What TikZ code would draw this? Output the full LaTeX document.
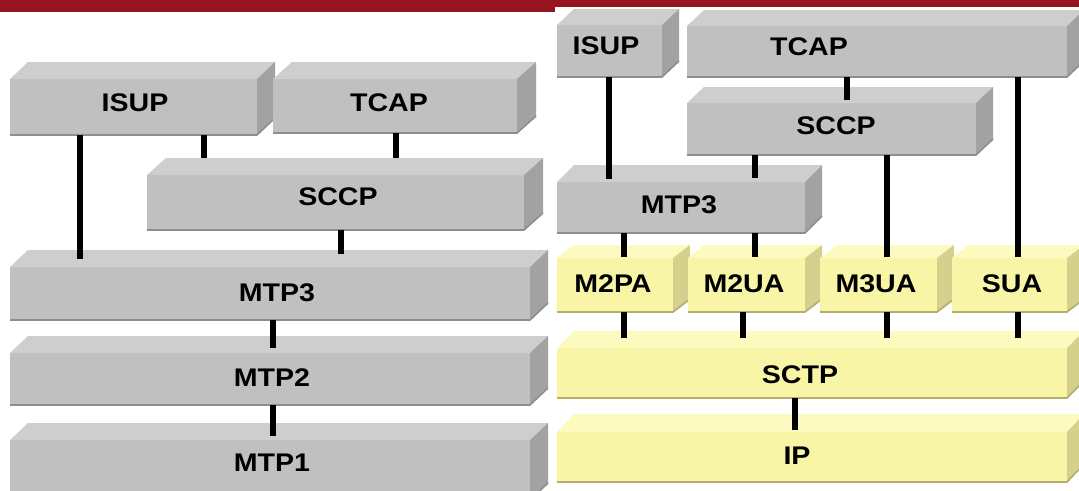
\documentclass[tikz,border=0pt]{standalone}
\usepackage{fontspec}
\setmainfont{Liberation Sans}[FakeStretch=1.12]
\usetikzlibrary{calc}

\definecolor{barred}{HTML}{961520}
\definecolor{grayfront}{HTML}{C0C0C0}
\definecolor{graytop}{HTML}{CECECE}
\definecolor{grayside}{HTML}{A2A2A2}
\definecolor{grayedge}{HTML}{8E8E8E}
\definecolor{yelfront}{HTML}{F9F5A6}
\definecolor{yeltop}{HTML}{FCFABF}
\definecolor{yelside}{HTML}{D5D18C}
\definecolor{yeledge}{HTML}{B3AE6E}

\tikzset{
  layer/.style={fill=#1front, draw=none, inner sep=0pt, outer sep=0pt},
  lbl/.style={font=\fontsize{25.5}{26}\selectfont\bfseries, inner sep=0pt, text=black},
  link/.style={draw=black, line width=6pt},
}

% \slab{name}{x1}{y1}{x2}{y2}{depth x}{depth y}{palette}
% front face (x1,y1)-(x2,y2), with a top face and a right side face
\newcommand\slab[8]{%
  \node[layer=#8, minimum width={(#4-#2)*1pt}, minimum height={(#5-#3)*1pt}]
    (#1) at ({(#2+#4)/2},{(#3+#5)/2}) {};
  \fill[#8top] (#1.north west) -- ++(#6,-#7) -- ($(#1.north east)+(#6,-#7)$)
    -- (#1.north east) -- cycle;
  \fill[#8side] (#1.north east) -- ++(#6,-#7) -- ($(#1.south east)+(#6,-#7)$)
    -- (#1.south east) -- cycle;
  \draw[#8edge, line width=1.6pt] (#1.south west) -- (#1.south east) -- ++(#6,-#7);
}

% \layerlink{upper}{lower}{x}{how far the bar reaches into the top face}
\newcommand\layerlink[4]{%
  \draw[link] (#1.south -| #3,0) -- ($(#2.north -| #3,0)+(0,-#4)$);
}

\begin{document}
\begin{tikzpicture}[x=1pt, y=-1pt]
\useasboundingbox (0,0) rectangle (1079,490);
\clip (0,0) rectangle (1079,490);
\fill[white] (0,0) rectangle (1079,490);

% title strip
\fill[barred] (0,0) rectangle (555,12);
\fill[barred] (555,0) rectangle (1079,7);

% ---------------- SS7 stack ----------------
\slab{isupL}{10}{79}{257}{135}{18}{17}{gray}
\slab{tcapL}{273}{79}{517}{133}{19}{17}{gray}
\slab{sccpL}{147}{175}{524}{230}{19}{17}{gray}
\slab{mtpthreeL}{10}{267}{530}{320}{18}{17}{gray}
\slab{mtptwoL}{10}{353}{530}{405}{18}{17}{gray}
\slab{mtponeL}{10}{440}{530}{500}{18}{17}{gray}

\node[lbl] (isupLt) at (135,103) {ISUP};
\node[lbl] (tcapLt) at (389,103) {TCAP};
\node[lbl] (sccpLt) at (338,197) {SCCP};
\node[lbl] (mtpthreeLt) at (277,293) {MTP3};
\node[lbl] (mtptwoLt) at (272,378) {MTP2};
\node[lbl] (mtponeLt) at (272,463) {MTP1};

\layerlink{isupL}{mtpthreeL}{80}{8}
\layerlink{isupL}{sccpL}{204}{17}
\layerlink{tcapL}{sccpL}{396}{17}
\layerlink{sccpL}{mtpthreeL}{341}{13}
\layerlink{mtpthreeL}{mtptwoL}{273}{5}
\layerlink{mtptwoL}{mtponeL}{273}{4}

% ---------------- SIGTRAN stack ----------------
\slab{isupR}{557}{25}{662}{77}{17}{16}{gray}
\slab{tcapR}{687}{26}{1067}{77}{17}{16}{gray}
\slab{sccpR}{687}{103}{976}{155}{17}{16}{gray}
\slab{mtpthreeR}{557}{182}{805}{233}{17}{17}{gray}
\slab{mtwopa}{557}{258}{673}{312}{17}{13}{yel}
\slab{mtwoua}{688}{258}{805}{312}{17}{13}{yel}
\slab{mthreeua}{820}{258}{937}{312}{17}{13}{yel}
\slab{sua}{952}{258}{1067}{312}{17}{13}{yel}
\slab{sctp}{557}{348}{1067}{398}{17}{17}{yel}
\slab{ip}{557}{432}{1067}{482}{17}{18}{yel}

\node[lbl] (isupRt) at (606,46) {ISUP};
\node[lbl] (tcapRt) at (809,47) {TCAP};
\node[lbl] (sccpRt) at (836,126) {SCCP};
\node[lbl] (mtpthreeRt) at (679,205) {MTP3};
\node[lbl] (mtwopat) at (613,284) {M2PA};
\node[lbl] (mtwouat) at (744,284) {M2UA};
\node[lbl] (mthreeuat) at (876,284) {M3UA};
\node[lbl] (suat) at (1012,284) {SUA};
\node[lbl] (sctpt) at (800,375) {SCTP};
\node[lbl] (ipt) at (797,456) {IP};

\layerlink{isupR}{mtpthreeR}{609}{3}
\layerlink{tcapR}{sccpR}{847}{3}
\layerlink{tcapR}{sua}{1018}{1}
\layerlink{sccpR}{mtpthreeR}{755}{4}
\layerlink{sccpR}{mthreeua}{887}{1}
\layerlink{mtpthreeR}{mtwopa}{624}{1}
\layerlink{mtpthreeR}{mtwoua}{755}{1}
\layerlink{mtwopa}{sctp}{624}{10}
\layerlink{mtwoua}{sctp}{743}{10}
\layerlink{mthreeua}{sctp}{887}{10}
\layerlink{sua}{sctp}{1018}{10}
\layerlink{sctp}{ip}{795}{2}
\end{tikzpicture}
\end{document}
